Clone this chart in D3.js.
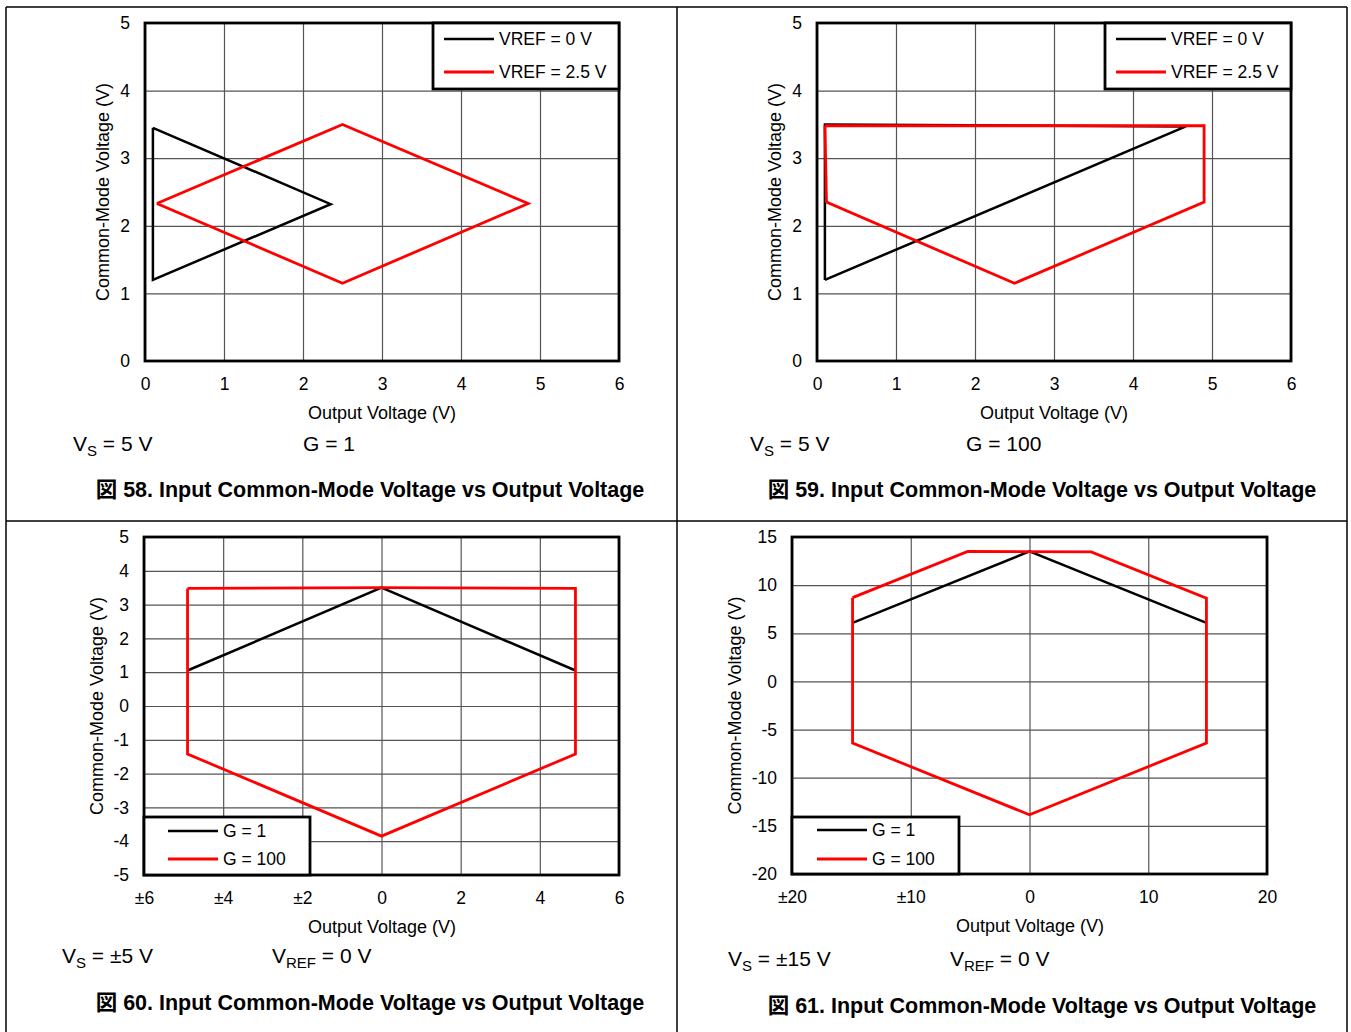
<!DOCTYPE html>
<html>
<head>
<meta charset="utf-8">
<script src="https://cdn.jsdelivr.net/npm/d3@7"></script>
<style>
  html, body { margin: 0; padding: 0; background: #fff; }
  svg { display: block; font-family: "Liberation Sans", Arial, sans-serif; }
</style>
</head>
<body>
<svg id="chart" width="1351" height="1032"></svg>
<script>
// ---- Data: curves as [output voltage, common-mode voltage] pairs ----
const fig58Vref0   = [[0.1, 3.45], [2.35, 2.32], [0.1, 1.2], [0.1, 3.45]];
const fig58Vref25  = [[0.15, 2.33], [2.5, 3.5], [4.85, 2.33], [2.5, 1.15], [0.15, 2.33]];

const fig59Vref0   = [[0.1, 1.2], [0.1, 3.5], [4.67, 3.47], [0.1, 1.2]];
const fig59Vref25  = [[0.1, 3.48], [4.9, 3.48], [4.9, 2.35], [2.5, 1.15], [0.12, 2.35], [0.1, 3.48]];

const fig60G1      = [[-4.9, 1.05], [0, 3.5], [4.9, 1.05]];
const fig60G100    = [[-4.9, 3.48], [0, 3.5], [4.9, 3.48], [4.9, -1.42], [0, -3.85], [-4.9, -1.42], [-4.9, 3.48]];

const fig61G1      = [[-14.85, 6.1], [0, 13.5], [14.85, 6.1]];
const fig61G100    = [[-14.9, 8.7], [-5.2, 13.5], [5.2, 13.45], [14.9, 8.65], [14.9, -6.4], [0, -13.85], [-14.9, -6.4], [-14.9, 8.7]];

// ---- Axis ticks and labels ----
const xTicks0to6   = [0, 1, 2, 3, 4, 5, 6];
const xLabels0to6  = ["0", "1", "2", "3", "4", "5", "6"];
const yTicks0to5   = [0, 1, 2, 3, 4, 5];
const yLabels0to5  = ["0", "1", "2", "3", "4", "5"];

const xTicksPm6    = [-6, -4, -2, 0, 2, 4, 6];
const xLabelsPm6   = ["±6", "±4", "±2", "0", "2", "4", "6"];
const yTicksPm5    = [-5, -4, -3, -2, -1, 0, 1, 2, 3, 4, 5];
const yLabelsPm5   = ["-5", "-4", "-3", "-2", "-1", "0", "1", "2", "3", "4", "5"];

const xTicksPm20   = [-20, -10, 0, 10, 20];
const xLabelsPm20  = ["±20", "±10", "0", "10", "20"];
const yTicksM20to15  = [-20, -15, -10, -5, 0, 5, 10, 15];
const yLabelsM20to15 = ["-20", "-15", "-10", "-5", "0", "5", "10", "15"];

const legendVref   = ["VREF = 0 V", "VREF = 2.5 V"];
const legendGain   = ["G = 1", "G = 100"];
const seriesColors = ["#000000", "#ff0000"];
const seriesWidths = [2.5, 2.8];

const svg = d3.select("#chart");

// ---- Page frame: outer border and quadrant dividers ----
const frame = svg.append("g").attr("stroke", "#000").attr("stroke-width", 1.5);
frame.append("line").attr("x1", 6).attr("x2", 1347).attr("y1", 7).attr("y2", 7);
frame.append("line").attr("x1", 6).attr("x2", 6).attr("y1", 7).attr("y2", 1032);
frame.append("line").attr("x1", 1347).attr("x2", 1347).attr("y1", 7).attr("y2", 1032);
frame.append("line").attr("x1", 677).attr("x2", 677).attr("y1", 7).attr("y2", 1032);
frame.append("line").attr("x1", 6).attr("x2", 1347).attr("y1", 521).attr("y2", 521);

function drawPanel(p) {
  const g = svg.append("g");
  const x = d3.scaleLinear().domain(p.xDomain).range([p.left, p.right]);
  const y = d3.scaleLinear().domain(p.yDomain).range([p.bottom, p.top]);
  const w = p.right - p.left, h = p.bottom - p.top;

  // gridlines
  g.append("g")
    .attr("transform", `translate(0,${p.bottom})`)
    .call(d3.axisBottom(x).tickValues(p.xTicks).tickSize(-h).tickFormat(""))
    .call(a => a.select(".domain").remove())
    .call(a => a.selectAll("line").attr("stroke", "#555").attr("stroke-width", 1.2));
  g.append("g")
    .attr("transform", `translate(${p.left},0)`)
    .call(d3.axisLeft(y).tickValues(p.yTicks).tickSize(-w).tickFormat(""))
    .call(a => a.select(".domain").remove())
    .call(a => a.selectAll("line").attr("stroke", "#555").attr("stroke-width", 1.2));

  // tick labels
  const xa = g.append("g")
    .attr("transform", `translate(0,${p.bottom})`)
    .call(d3.axisBottom(x).tickValues(p.xTicks).tickSize(0).tickPadding(0)
      .tickFormat((d, i) => p.xLabels[i]));
  xa.select(".domain").remove();
  xa.selectAll("text").attr("font-size", 17.5).attr("fill", "#000")
    .attr("font-family", "Liberation Sans, Arial, sans-serif")
    .attr("dy", null).attr("y", 29);

  const ya = g.append("g")
    .attr("transform", `translate(${p.left},0)`)
    .call(d3.axisLeft(y).tickValues(p.yTicks).tickSize(0).tickPadding(15)
      .tickFormat((d, i) => p.yLabels[i]));
  ya.select(".domain").remove();
  ya.selectAll("text").attr("font-size", 17.5).attr("fill", "#000")
    .attr("font-family", "Liberation Sans, Arial, sans-serif");

  // curves
  const line = d3.line().x(d => x(d[0])).y(d => y(d[1]));
  p.series.forEach((s, i) => {
    g.append("path").datum(s)
      .attr("d", line)
      .attr("fill", "none")
      .attr("stroke", seriesColors[i])
      .attr("stroke-width", seriesWidths[i])
      .attr("stroke-linejoin", "miter");
  });

  // plot border
  g.append("rect")
    .attr("x", p.left).attr("y", p.top).attr("width", w).attr("height", h)
    .attr("fill", "none").attr("stroke", "#000").attr("stroke-width", 2.8);

  // legend
  const L = p.legend;
  const lg = g.append("g");
  lg.append("rect").attr("x", L.x).attr("y", L.y).attr("width", L.w).attr("height", L.h)
    .attr("fill", "#fff").attr("stroke", "#000").attr("stroke-width", 2.8);
  p.legendLabels.forEach((t, i) => {
    const yy = L.y + L.row0 + i * L.rowGap;
    lg.append("line").attr("x1", L.x + L.lineX).attr("x2", L.x + L.lineX + 50)
      .attr("y1", yy).attr("y2", yy)
      .attr("stroke", seriesColors[i]).attr("stroke-width", seriesWidths[i]);
    lg.append("text").attr("x", L.x + L.lineX + 55).attr("y", yy).attr("dy", "0.36em")
      .attr("font-size", 17.5).text(t);
  });

  // axis titles
  g.append("text")
    .attr("transform", `translate(${p.yTitleX},${(p.top + p.bottom) / 2}) rotate(-90)`)
    .attr("text-anchor", "middle").attr("dy", "0.35em")
    .attr("font-size", 18).text("Common-Mode Voltage (V)");
  g.append("text")
    .attr("x", p.xTitleX).attr("y", p.bottom + 58)
    .attr("text-anchor", "middle").attr("font-size", 18).text("Output Voltage (V)");

  // test conditions
  p.conditions.forEach(c => {
    const t = g.append("text").attr("x", c.x).attr("y", p.condY).attr("font-size", 21);
    t.append("tspan").text(c.main);
    if (c.sub) {
      t.append("tspan").attr("font-size", 15).attr("dy", 5).text(c.sub);
      t.append("tspan").attr("dy", -5).text(c.rest);
    }
  });

  // figure caption
  g.append("text")
    .attr("x", p.captionX).attr("y", p.captionY)
    .attr("text-anchor", "middle").attr("font-size", 21.5).attr("font-weight", "bold")
    .attr("font-family", "Liberation Sans, Arial, 'Noto Sans CJK JP', sans-serif")
    .text(p.caption);
}

drawPanel({
  left: 145, right: 619, top: 23, bottom: 361,
  xDomain: [0, 6], yDomain: [0, 5],
  xTicks: xTicks0to6, xLabels: xLabels0to6, yTicks: yTicks0to5, yLabels: yLabels0to5,
  series: [fig58Vref0, fig58Vref25],
  legend: { x: 433, y: 23, w: 186, h: 66, row0: 16, rowGap: 33, lineX: 11 },
  legendLabels: legendVref,
  yTitleX: 103, xTitleX: 382,
  condY: 451,
  conditions: [{ main: "V", sub: "S", rest: " = 5 V", x: 73 }, { main: "G = 1", x: 303 }],
  caption: "図 58. Input Common-Mode Voltage vs Output Voltage", captionX: 370, captionY: 497
});

drawPanel({
  left: 817, right: 1291, top: 23, bottom: 361,
  xDomain: [0, 6], yDomain: [0, 5],
  xTicks: xTicks0to6, xLabels: xLabels0to6, yTicks: yTicks0to5, yLabels: yLabels0to5,
  series: [fig59Vref0, fig59Vref25],
  legend: { x: 1105, y: 23, w: 186, h: 66, row0: 16, rowGap: 33, lineX: 11 },
  legendLabels: legendVref,
  yTitleX: 775, xTitleX: 1054,
  condY: 451,
  conditions: [{ main: "V", sub: "S", rest: " = 5 V", x: 750 }, { main: "G = 100", x: 966 }],
  caption: "図 59. Input Common-Mode Voltage vs Output Voltage", captionX: 1042, captionY: 497
});

drawPanel({
  left: 144, right: 619, top: 537, bottom: 875,
  xDomain: [-6, 6], yDomain: [-5, 5],
  xTicks: xTicksPm6, xLabels: xLabelsPm6, yTicks: yTicksPm5, yLabels: yLabelsPm5,
  series: [fig60G1, fig60G100],
  legend: { x: 144, y: 817, w: 166, h: 58, row0: 14, rowGap: 28, lineX: 24 },
  legendLabels: legendGain,
  yTitleX: 97, xTitleX: 382,
  condY: 963,
  conditions: [{ main: "V", sub: "S", rest: " = ±5 V", x: 62 }, { main: "V", sub: "REF", rest: " = 0 V", x: 272 }],
  caption: "図 60. Input Common-Mode Voltage vs Output Voltage", captionX: 370, captionY: 1010
});

drawPanel({
  left: 792, right: 1267, top: 537, bottom: 874,
  xDomain: [-20, 20], yDomain: [-20, 15],
  xTicks: xTicksPm20, xLabels: xLabelsPm20, yTicks: yTicksM20to15, yLabels: yLabelsM20to15,
  series: [fig61G1, fig61G100],
  legend: { x: 792, y: 817, w: 167, h: 57, row0: 13, rowGap: 29, lineX: 25 },
  legendLabels: legendGain,
  yTitleX: 735, xTitleX: 1030,
  condY: 966,
  conditions: [{ main: "V", sub: "S", rest: " = ±15 V", x: 728 }, { main: "V", sub: "REF", rest: " = 0 V", x: 950 }],
  caption: "図 61. Input Common-Mode Voltage vs Output Voltage", captionX: 1042, captionY: 1013
});
</script>
</body>
</html>
